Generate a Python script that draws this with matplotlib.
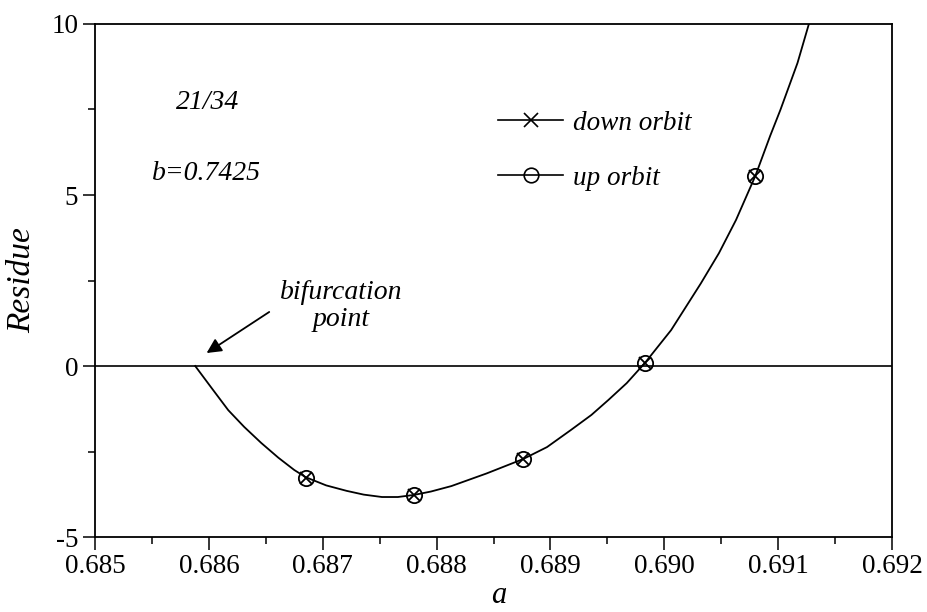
import numpy as np
import matplotlib
matplotlib.use("Agg")
import matplotlib.pyplot as plt
from matplotlib.ticker import MultipleLocator, FormatStrFormatter

plt.rcParams['font.family'] = ['Liberation Serif', 'DejaVu Serif']
plt.rcParams['axes.unicode_minus'] = False

# residue curve (a, residue) traced from the bifurcation point upward
curve_a = [0.68588, 0.68603, 0.68617, 0.68631, 0.68646, 0.68661, 0.68675,
           0.68685, 0.68703, 0.68721, 0.68736, 0.68752, 0.68766, 0.68780,
           0.68795, 0.68813, 0.68844, 0.68876, 0.68897, 0.68918, 0.68936,
           0.68951, 0.68967, 0.68983, 0.69006, 0.69019, 0.69032, 0.69048,
           0.69063, 0.69080, 0.69093, 0.69102, 0.69110, 0.69117, 0.69127]
curve_r = [0.00, -0.67, -1.29, -1.78, -2.25, -2.68, -3.04,
           -3.25, -3.49, -3.65, -3.76, -3.83, -3.83, -3.77,
           -3.67, -3.51, -3.14, -2.72, -2.37, -1.87, -1.43,
           -0.99, -0.50, 0.09, 1.05, 1.73, 2.41, 3.30,
           4.27, 5.56, 6.73, 7.49, 8.22, 8.86, 10.00]

# computed orbits
orbit_a = [0.68685, 0.68780, 0.68876, 0.68983, 0.69080]
down_r = [-3.27, -3.77, -2.72, 0.09, 5.56]
up_r = [-3.27, -3.77, -2.72, 0.09, 5.56]

xticks = [0.685, 0.686, 0.687, 0.688, 0.689, 0.690, 0.691, 0.692]
yticks = [-5, 0, 5, 10]

fig = plt.figure(figsize=(9.28, 6.12), dpi=100)
ax = fig.add_axes([0.1024, 0.1225, 0.8588, 0.8383])

ax.axhline(0, color='black', lw=1.2)
ax.plot(curve_a, curve_r, color='black', lw=1.3)
ax.plot(orbit_a, down_r, ls='none', marker='x', ms=9, mew=1.3, color='black')
ax.plot(orbit_a, up_r, ls='none', marker='o', ms=11, mew=1.3,
        mfc='none', mec='black')

# legend with proxy handles
h1, = ax.plot([], [], color='black', lw=1.2, marker='x', ms=10, mew=1.2)
h2, = ax.plot([], [], color='black', lw=1.2, marker='o', ms=10.5, mew=1.2, mfc='none')
leg = ax.legend([h1, h2], ['down orbit', 'up orbit'], loc='upper left',
                bbox_to_anchor=(0.4755, 0.878), frameon=False, handlelength=2.4,
                labelspacing=1.1, handletextpad=0.37,
                prop={'family': 'Liberation Serif', 'style': 'italic', 'size': 19.5})

ax.text(0.68599, 7.69, '21/34', style='italic', fontsize=20, ha='center', va='center')
ax.text(0.68598, 5.64, 'b=0.7425', style='italic', fontsize=20, ha='center', va='center')
ax.text(0.68716, 1.75, 'bifurcation\npoint', style='italic', fontsize=20,
        ha='center', va='center', linespacing=1.1)
ax.annotate('', xy=(0.68598, 0.38), xytext=(0.68653, 1.58),
            arrowprops=dict(arrowstyle='-|>', color='black', lw=1.3,
                            mutation_scale=22, shrinkA=0, shrinkB=0))

ax.set_xlim(0.685, 0.692)
ax.set_ylim(-5, 10)
ax.set_xticks(xticks)
ax.set_yticks(yticks)
ax.xaxis.set_major_formatter(FormatStrFormatter('%.3f'))
ax.xaxis.set_minor_locator(MultipleLocator(0.0005))
ax.yaxis.set_minor_locator(MultipleLocator(2.5))
ax.tick_params(which='major', direction='out', length=9, width=1.1, labelsize=19.5,
               top=False, right=False)
ax.tick_params(axis='y', which='major', pad=3)
ax.tick_params(which='minor', direction='out', length=5, width=1.1,
               top=False, right=False)
for s in ax.spines.values():
    s.set_linewidth(1.3)

ax.set_xlabel('a', style='italic', fontsize=22, va='baseline')
ax.xaxis.set_label_coords(0.507, -0.128)
ax.set_ylabel('Residue', style='italic', fontsize=24, labelpad=10)

fig.savefig('out.png', dpi=100)
